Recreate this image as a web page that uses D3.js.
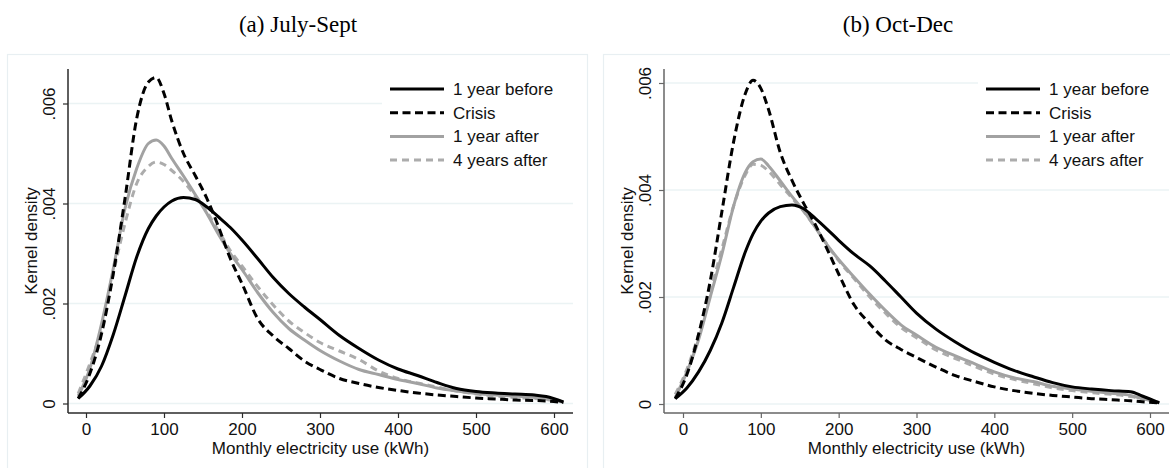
<!DOCTYPE html>
<html><head><meta charset="utf-8">
<script src="https://cdn.jsdelivr.net/npm/d3@7"></script>
<style>body{margin:0;background:#fff;} svg{display:block;}</style>
</head><body><svg id="c" width="1170" height="468"></svg>
<script>
// ---------- data ----------
const kwh = [-10, 5, 20, 35, 50, 65, 80, 90, 100, 110, 125, 140, 155, 170, 185, 200, 220, 240, 260, 280, 300, 325, 350, 375, 400, 425, 450, 475, 500, 525, 550, 575, 590, 612];
const seriesNames = ["1 year before", "Crisis", "1 year after", "4 years after"];
const panelTitles = ["(a) July-Sept", "(b) Oct-Dec"];
const xTicks = [0, 100, 200, 300, 400, 500, 600];
const yTicks = [0, 0.002, 0.004, 0.006];
const yTickLabels = ["0", ".002", ".004", ".006"];
const xTitle = "Monthly electricity use (kWh)";
const yTitle = "Kernel density";

// (a) July-Sept
const julBefore = [.0001, .00035, .00075, .00138, .00215, .00293, .0035, .00375, .00393, .00405, .00412, .00408, .00393, .00373, .00352, .00327, .0029, .00252, .0022, .00193, .00168, .00136, .0011, .00087, .00069, .00056, .00042, .0003, .00024, .00021, .00019, .00017, .00014, .00003];
const julCrisis = [.0001, .0006, .0014, .0026, .0041, .0057, .00643, .00652, .0062, .00565, .005, .00456, .0041, .00353, .0029, .0024, .0017, .00135, .0011, .00085, .00068, .0005, .0004, .00032, .00026, .00021, .00017, .00014, .00011, .00009, .00007, .00006, .00005, .00002];
const julAfter1 = [.00015, .0007, .0016, .0027, .0039, .0047, .0052, .00527, .00515, .0049, .00455, .00418, .0038, .00338, .003, .00268, .00222, .00182, .0015, .00127, .00106, .00085, .00068, .00058, .00048, .0004, .00031, .00025, .0002, .00017, .00015, .00012, .0001, .00003];
const julAfter4 = [.0002, .0008, .0015, .0026, .0036, .0044, .00474, .00483, .00478, .00466, .00444, .00415, .00383, .00345, .00306, .00275, .00234, .00197, .00165, .00142, .00122, .00105, .00088, .00065, .0005, .00041, .00033, .00025, .00019, .00015, .00012, .0001, .00008, .00003];

// (b) Oct-Dec
const octBefore = [.0001, .0003, .0006, .001, .00152, .00218, .00284, .00318, .00342, .00357, .00369, .00372, .00365, .00347, .00327, .00306, .0028, .00258, .0023, .002, .0017, .0014, .00116, .00095, .00078, .00063, .00051, .0004, .00032, .00028, .00025, .00023, .00015, .00002];
const octCrisis = [.0001, .00055, .0013, .0023, .0036, .0049, .0058, .00605, .0059, .0055, .0047, .00418, .00375, .00335, .0029, .00243, .00185, .0015, .0012, .00102, .00087, .00069, .00053, .00042, .00032, .00025, .0002, .00016, .00013, .0001, .00008, .00006, .00004, .00002];
const octAfter1 = [.00012, .0006, .0012, .002, .0028, .0037, .00433, .00453, .00458, .00445, .00417, .00388, .00361, .0033, .00298, .0027, .00237, .00205, .00175, .00148, .00129, .00106, .0009, .00075, .0006, .00049, .00042, .00033, .00028, .00024, .0002, .00016, .0001, .00003];
const octAfter4 = [.00018, .00065, .0013, .0021, .0029, .0037, .00428, .00448, .00446, .00435, .0041, .00385, .0036, .0033, .00298, .00268, .00234, .002, .0017, .00143, .00124, .00101, .00085, .0007, .00056, .00046, .00038, .0003, .00025, .00021, .00018, .00014, .0001, .00003];

// ---------- styles / layout ----------
const styles = [
  {color: "#000000", dash: null},
  {color: "#000000", dash: "8,4.5"},
  {color: "#a2a2a2", dash: null},
  {color: "#acacac", dash: "7,5"}
];
const panels = [
  {title: panelTitles[0], series: [julBefore, julCrisis, julAfter1, julAfter4],
   frame: [7.5, 54.5, 580], left: 68, right: 573, top: 69, bottom: 413,
   x0: 86, x600: 554, y0: 403.5, y6: 103.5, axisColor: "#2a2a2a", titleX: 298},
  {title: panelTitles[1], series: [octBefore, octCrisis, octAfter1, octAfter4],
   frame: [603.5, 54.5, 600], left: 664, right: 1169, top: 69, bottom: 413,
   x0: 683, x600: 1150, y0: 404, y6: 83, axisColor: "#666666", titleX: 898}
];
const FONT = "'Liberation Sans', Arial, Helvetica, sans-serif";
const svg = d3.select("#c");

panels.forEach(p => {
  const g = svg.append("g");
  // frame
  g.append("rect").attr("x", p.frame[0]).attr("y", p.frame[1]).attr("width", p.frame[2]).attr("height", 430)
    .attr("fill", "none").attr("stroke", "#e8eff2").attr("stroke-width", 1.2);
  // title
  g.append("text").attr("x", p.titleX).attr("y", 32).attr("text-anchor", "middle")
    .attr("font-family", "'Liberation Serif', 'Times New Roman', serif").attr("font-size", 23)
    .attr("fill", "#000").text(p.title);

  const x = d3.scaleLinear().domain([0, 600]).range([p.x0, p.x600]);
  const y = d3.scaleLinear().domain([0, 0.006]).range([p.y0, p.y6]);

  // gridlines
  g.selectAll(".grid").data(yTicks).enter().append("line")
    .attr("x1", p.left).attr("x2", p.right)
    .attr("y1", d => y(d)).attr("y2", d => y(d))
    .attr("stroke", "#ebf3f4").attr("stroke-width", 1.5);

  // y axis
  const yAxis = d3.axisLeft(y).tickValues(yTicks).tickSize(5).tickSizeOuter(0)
    .tickFormat((d, i) => yTickLabels[i]);
  const ya = g.append("g").attr("transform", `translate(${p.left},0)`).call(yAxis);
  ya.select(".domain").remove();
  ya.selectAll(".tick line").attr("stroke", p.axisColor).attr("stroke-width", 1.2);
  ya.selectAll(".tick text").attr("font-family", FONT).attr("font-size", 17).attr("fill", "#111")
    .attr("text-anchor", "middle").attr("x", null).attr("dy", null)
    .attr("transform", "translate(-13,0) rotate(-90)").attr("y", 0);
  g.append("line").attr("x1", p.left).attr("x2", p.left).attr("y1", p.top).attr("y2", p.bottom)
    .attr("stroke", p.axisColor).attr("stroke-width", 1.5);

  // x axis
  const xAxis = d3.axisBottom(x).tickValues(xTicks).tickSize(5).tickSizeOuter(0).tickFormat(d3.format("d"));
  const xa = g.append("g").attr("transform", `translate(0,${p.bottom})`).call(xAxis);
  xa.select(".domain").remove();
  xa.selectAll(".tick line").attr("stroke", p.axisColor).attr("stroke-width", 1.2);
  xa.selectAll(".tick text").attr("font-family", FONT).attr("font-size", 17).attr("fill", "#111")
    .attr("y", 22).attr("dy", null);
  g.append("line").attr("x1", p.left).attr("x2", p.right).attr("y1", p.bottom).attr("y2", p.bottom)
    .attr("stroke", p.axisColor).attr("stroke-width", 1.5);

  // axis titles
  g.append("text").attr("x", (p.left + p.right) / 2).attr("y", 454).attr("text-anchor", "middle")
    .attr("font-family", FONT).attr("font-size", 17).attr("fill", "#111").text(xTitle);
  g.append("text").attr("transform", `translate(${p.left - 31},${(p.top + p.bottom) / 2}) rotate(-90)`)
    .attr("text-anchor", "middle").attr("font-family", FONT).attr("font-size", 17).attr("fill", "#111").text(yTitle);

  // lines
  const line = d3.line().x((d, i) => x(kwh[i])).y(d => y(d)).curve(d3.curveMonotoneX);
  [3, 2, 0, 1].forEach(si => {
    g.append("path").datum(p.series[si]).attr("d", line)
      .attr("fill", "none").attr("stroke", styles[si].color).attr("stroke-width", 3)
      .attr("stroke-dasharray", styles[si].dash).attr("stroke-linejoin", "round");
  });

  // legend
  const lx = p.right - 183;
  g.append("rect").attr("x", lx - 8).attr("y", 75).attr("width", 191).attr("height", 98).attr("fill", "#fff");
  seriesNames.forEach((name, i) => {
    const ly = 89 + i * 23.7;
    g.append("line").attr("x1", lx).attr("x2", lx + 54).attr("y1", ly).attr("y2", ly)
      .attr("stroke", styles[i].color).attr("stroke-width", 3).attr("stroke-dasharray", styles[i].dash);
    g.append("text").attr("x", lx + 63).attr("y", ly + 6).attr("font-family", FONT).attr("font-size", 17)
      .attr("fill", "#111").text(name);
  });
});
</script></body></html>
